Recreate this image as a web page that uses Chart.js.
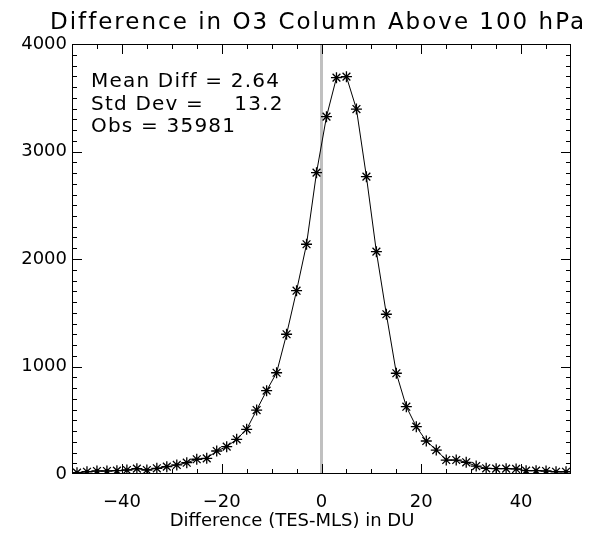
<!DOCTYPE html>
<html lang="en">
<head>
    <meta charset="UTF-8">
    <title>Difference in O3 Column Above 100 hPa</title>
    <script src="https://cdn.jsdelivr.net/npm/chart.js"></script>
    <style>
        html, body { margin: 0; padding: 0; background: #fff; }
        #wrap { width: 593px; height: 535px; }
    </style>
</head>
<body>
<div id="wrap"><canvas id="diffChart" width="593" height="535"></canvas></div>

<script>
    // bin centres (DU) and counts
    const diffBins = [-49, -47, -45, -43, -41, -39, -37, -35, -33, -31,
                      -29, -27, -25, -23, -21, -19, -17, -15, -13, -11,
                      -9, -7, -5, -3, -1, 1, 3, 5, 7, 9,
                      11, 13, 15, 17, 19, 21, 23, 25, 27, 29,
                      31, 33, 35, 37, 39, 41, 43, 45, 47, 49];
    const counts = [12, 21, 28, 28, 31, 37, 50, 37, 53, 68,
                    84, 105, 137, 146, 214, 254, 323, 416, 595, 775,
                    942, 1300, 1705, 2137, 2803, 3324, 3687, 3696, 3395, 2766,
                    2068, 1486, 937, 626, 440, 307, 223, 130, 130, 109,
                    74, 53, 50, 50, 47, 31, 31, 28, 21, 21];

    const xTicks = [-40, -20, 0, 20, 40];
    const yTicks = [0, 1000, 2000, 3000, 4000];
    const zeroLineX = [0, 0];
    const zeroLineY = [0, 4000];

    const titleText = 'Difference in O3 Column Above 100 hPa';
    const xTitle = 'Difference (TES-MLS) in DU';
    const statsLines = ['Mean Diff = 2.64', 'Std Dev =    13.2', 'Obs = 35981'];

    const FONT = '"DejaVu Sans", sans-serif';

    // box, inward ticks and text in IDL style
    const idlFrame = {
        id: 'idlFrame',
        afterDraw(chart) {
            const ctx = chart.ctx;
            const a = chart.chartArea;
            const xs = chart.scales.x;
            const ys = chart.scales.y;
            ctx.save();
            ctx.strokeStyle = '#000';
            ctx.lineWidth = 1;
            ctx.strokeRect(a.left + 0.5, a.top + 0.5, a.right - a.left - 1, a.bottom - a.top - 1);

            ctx.beginPath();
            for (let v = -45; v < 50; v += 5) {
                const px = Math.round(xs.getPixelForValue(v)) + 0.5;
                const len = xTicks.includes(v) ? 10 : 5;
                ctx.moveTo(px, a.bottom); ctx.lineTo(px, a.bottom - len);
                ctx.moveTo(px, a.top); ctx.lineTo(px, a.top + len);
            }
            for (let v = 100; v < 4000; v += 100) {
                const py = Math.round(ys.getPixelForValue(v)) + 0.5;
                const len = yTicks.includes(v) ? 10 : 5;
                ctx.moveTo(a.left, py); ctx.lineTo(a.left + len, py);
                ctx.moveTo(a.right, py); ctx.lineTo(a.right - len, py);
            }
            ctx.stroke();

            ctx.fillStyle = '#000';
            ctx.textBaseline = 'alphabetic';
            ctx.textAlign = 'center';
            ctx.font = '23px ' + FONT;
            ctx.letterSpacing = '2px';
            ctx.fillText(titleText, 318, 29);

            ctx.font = '18px ' + FONT;
            ctx.letterSpacing = '0px';
            ctx.fillText(xTitle, 292, 526);

            ctx.textAlign = 'left';
            ctx.font = '20px ' + FONT;
            ctx.letterSpacing = '1.2px';
            statsLines.forEach((line, i) => {
                ctx.fillText(line, 91, 87 + i * 22.5);
            });
            ctx.restore();
        }
    };

    const ctx = document.getElementById('diffChart').getContext('2d');
    new Chart(ctx, {
        type: 'line',
        data: {
            datasets: [{
                data: diffBins.map((b, i) => ({ x: b, y: counts[i] })),
                borderColor: '#000',
                borderWidth: 1,
                pointStyle: 'star',
                pointRadius: 5.5,
                pointBorderWidth: 1.3,
                pointBorderColor: '#000',
                pointBackgroundColor: '#000',
                tension: 0
            }, {
                data: zeroLineX.map((v, i) => ({ x: v, y: zeroLineY[i] })),
                borderColor: '#c0c0c0',
                borderWidth: 3,
                pointRadius: 0
            }]
        },
        plugins: [idlFrame],
        options: {
            responsive: false,
            animation: false,
            layout: { padding: { top: 44, right: 22, left: 0, bottom: 0 } },
            plugins: {
                legend: { display: false },
                title: { display: false },
                tooltip: { enabled: false }
            },
            scales: {
                x: {
                    type: 'linear',
                    min: -50,
                    max: 50,
                    afterBuildTicks: s => { s.ticks = xTicks.map(v => ({ value: v })); },
                    afterFit: s => { s.height = 61; },
                    grid: { display: false, drawTicks: false },
                    border: { display: false },
                    ticks: {
                        color: '#000',
                        padding: 18,
                        maxRotation: 0,
                        font: { family: FONT, size: 18 },
                        callback: v => String(v).replace('-', '\u2212')
                    }
                },
                y: {
                    type: 'linear',
                    min: 0,
                    max: 4000,
                    afterBuildTicks: s => { s.ticks = yTicks.map(v => ({ value: v })); },
                    afterFit: s => { s.width = 72; },
                    grid: { display: false, drawTicks: false },
                    border: { display: false },
                    ticks: {
                        color: '#000',
                        padding: 5,
                        font: { family: FONT, size: 18 },
                        callback: v => String(v)
                    }
                }
            }
        }
    });
</script>
</body>
</html>
